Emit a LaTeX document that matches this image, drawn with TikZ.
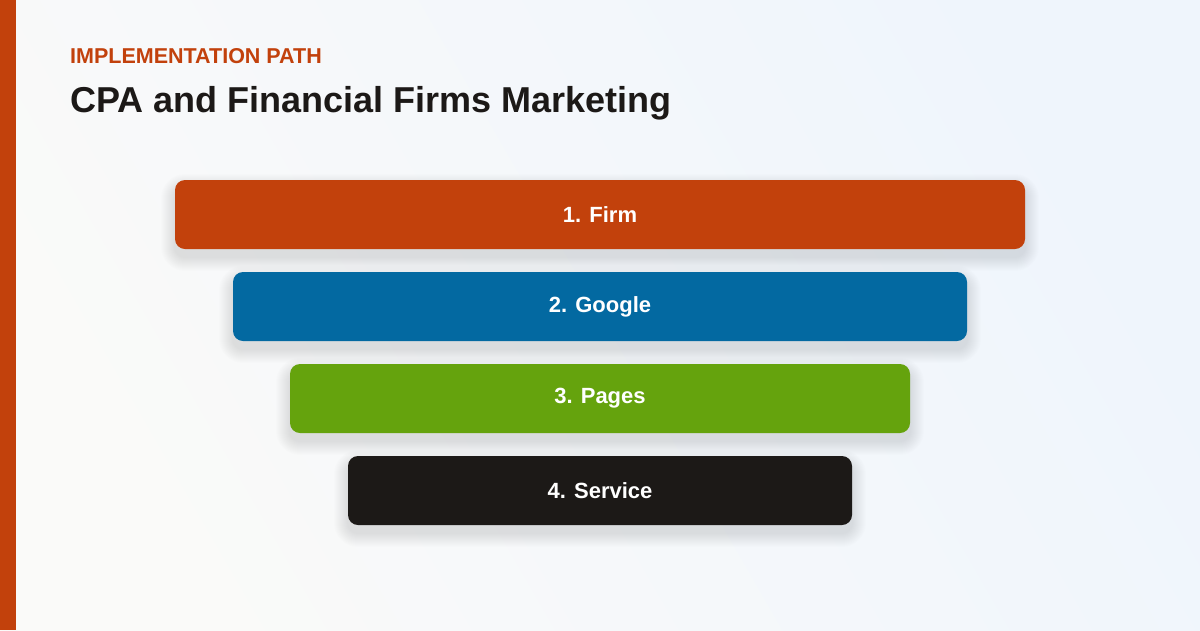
\documentclass[tikz,border=0pt]{standalone}
\usepackage{fontspec}
\setmainfont{Liberation Sans}

\definecolor{rust}{HTML}{C2410C}
\definecolor{ocean}{HTML}{0369A1}
\definecolor{leaf}{HTML}{65A30D}
\definecolor{ink}{HTML}{1C1917}
\definecolor{bgA}{HTML}{FAFAF9}
\definecolor{bgB}{HTML}{EFF5FC}
\definecolor{haze}{HTML}{1E293B}

\begin{document}
\begin{tikzpicture}[x=1pt, y=-1pt,
  bar/.style={rounded corners=10pt, minimum height=69pt, inner sep=0pt,
    text=white, font=\bfseries\fontsize{22}{26}\selectfont}]
\useasboundingbox (0,0) rectangle (1200,630);
\shade [left color=bgA, right color=bgB, shading angle=120] (0,0) rectangle (1200,630);
\fill [rust] (0,0) rectangle (16,630);
\node [anchor=base west, inner sep=0pt, text=rust, font=\bfseries\fontsize{21.5}{24}\selectfont] (kicker) at (70,63) {IMPLEMENTATION PATH};
\node [anchor=base west, inner sep=0pt, text=ink, font=\bfseries\fontsize{36}{40}\selectfont] (title) at (70,112) {CPA and Financial Firms Marketing};
\foreach \i/\w/\c/\t in {1/850/rust/Firm, 2/734/ocean/Google, 3/620/leaf/Pages, 4/504/ink/Service}
{
% soft shadow under each bar
\foreach \k in {1,...,14}
\fill [haze, opacity=0.007, rounded corners={10+\k}]
  ({600-\w/2-\k},{180+92*(\i-1)+8-\k}) rectangle ({600+\w/2+\k},{249+92*(\i-1)+8+\k});
\node [bar, fill=\c, minimum width=\w pt] (bar\i) at (600,{214.5+92*(\i-1)}) {\i. \t};
}
\end{tikzpicture}
\end{document}
